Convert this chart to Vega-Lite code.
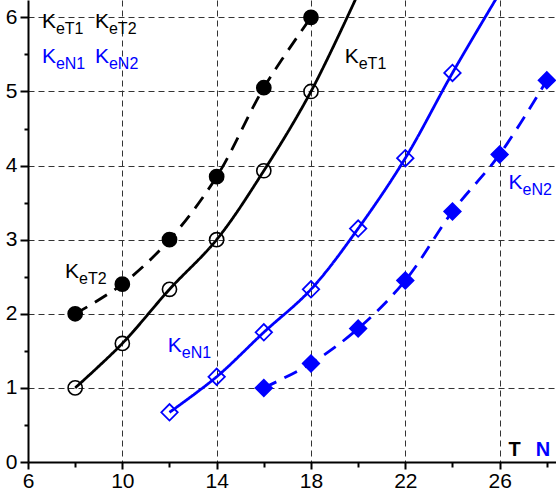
{
  "$schema": "https://vega.github.io/schema/vega-lite/v6.json",
  "width": 528,
  "height": 462,
  "autosize": {"type": "none"},
  "padding": {"left": 28, "top": 0, "right": 0, "bottom": 37},
  "background": "white",
  "config": {
    "view": {"stroke": null},
    "font": "Liberation Sans",
    "axis": {
      "domainColor": "black",
      "domainWidth": 2,
      "tickColor": "black",
      "tickWidth": 2,
      "labelColor": "black",
      "labelFont": "Liberation Sans",
      "labelFontSize": 21,
      "gridColor": "#333333",
      "gridDash": [6, 4],
      "gridWidth": 1,
      "title": null
    }
  },
  "datasets": {
    "curves": [
      {"s": "KeT1", "x": 8, "y": 1.0, "m": true},
      {"s": "KeT1", "x": 10, "y": 1.6, "m": true},
      {"s": "KeT1", "x": 12, "y": 2.33, "m": true},
      {"s": "KeT1", "x": 14, "y": 3.0, "m": true},
      {"s": "KeT1", "x": 16, "y": 3.93, "m": true},
      {"s": "KeT1", "x": 18, "y": 5.0, "m": true},
      {"s": "KeT1", "x": 20, "y": 6.32, "m": false},
      {"s": "KeT2", "x": 8, "y": 2.0, "m": true},
      {"s": "KeT2", "x": 10, "y": 2.4, "m": true},
      {"s": "KeT2", "x": 12, "y": 3.0, "m": true},
      {"s": "KeT2", "x": 14, "y": 3.85, "m": true},
      {"s": "KeT2", "x": 16, "y": 5.05, "m": true},
      {"s": "KeT2", "x": 18, "y": 6.0, "m": true},
      {"s": "KeN1", "x": 12, "y": 0.67, "m": true},
      {"s": "KeN1", "x": 14, "y": 1.15, "m": true},
      {"s": "KeN1", "x": 16, "y": 1.75, "m": true},
      {"s": "KeN1", "x": 18, "y": 2.33, "m": true},
      {"s": "KeN1", "x": 20, "y": 3.15, "m": true},
      {"s": "KeN1", "x": 22, "y": 4.1, "m": true},
      {"s": "KeN1", "x": 24, "y": 5.25, "m": true},
      {"s": "KeN1", "x": 26, "y": 6.33, "m": false},
      {"s": "KeN2", "x": 16, "y": 1.0, "m": true},
      {"s": "KeN2", "x": 18, "y": 1.33, "m": true},
      {"s": "KeN2", "x": 20, "y": 1.8, "m": true},
      {"s": "KeN2", "x": 22, "y": 2.45, "m": true},
      {"s": "KeN2", "x": 24, "y": 3.38, "m": true},
      {"s": "KeN2", "x": 26, "y": 4.15, "m": true},
      {"s": "KeN2", "x": 28, "y": 5.15, "m": true}
    ],
    "labels": [
      {"s": "KeT1", "k": "K", "sub": "eT1", "x": 6.59, "y": 5.86},
      {"s": "KeT2", "k": "K", "sub": "eT2", "x": 8.84, "y": 5.86},
      {"s": "KeN1", "k": "K", "sub": "eN1", "x": 6.59, "y": 5.39},
      {"s": "KeN2", "k": "K", "sub": "eN2", "x": 8.84, "y": 5.39},
      {"s": "KeT1", "k": "K", "sub": "eT1", "x": 19.43, "y": 5.39},
      {"s": "KeT2", "k": "K", "sub": "eT2", "x": 7.57, "y": 2.48},
      {"s": "KeN1", "k": "K", "sub": "eN1", "x": 11.93, "y": 1.48},
      {"s": "KeN2", "k": "K", "sub": "eN2", "x": 26.38, "y": 3.69}
    ],
    "keys": [
      {"s": "KeT1", "t": "T", "x": 26.38, "y": 0.08},
      {"s": "KeN1", "t": "N", "x": 27.53, "y": 0.08}
    ]
  },
  "encoding": {
    "x": {
      "field": "x",
      "type": "quantitative",
      "scale": {"domain": [6, 28.39], "nice": false, "zero": false},
      "axis": {
        "values": [6, 8, 10, 12, 14, 16, 18, 20, 22, 24, 26, 28],
        "labelExpr": "datum.value % 4 == 2 ? format(datum.value, 'd') : ''",
        "tickSize": {"condition": {"test": "datum.value % 4 == 2", "value": 7}, "value": 5},
        "labelPadding": 1,
        "labelFlush": false,
        "labelOverlap": false,
        "grid": true,
        "gridOpacity": {"condition": {"test": "datum.value % 4 == 2 && datum.value > 6", "value": 1}, "value": 0}
      }
    },
    "y": {
      "field": "y",
      "type": "quantitative",
      "scale": {"domain": [0, 6.234], "nice": false, "zero": true},
      "axis": {
        "values": [0, 0.5, 1, 1.5, 2, 2.5, 3, 3.5, 4, 4.5, 5, 5.5, 6],
        "labelExpr": "datum.value % 1 == 0 ? format(datum.value, 'd') : ''",
        "tickSize": {"condition": {"test": "datum.value % 1 == 0", "value": 8}, "value": 4},
        "labelPadding": 3,
        "labelOverlap": false,
        "labelFlush": false,
        "grid": true,
        "gridOpacity": {"condition": {"test": "datum.value % 1 == 0 && datum.value > 0", "value": 1}, "value": 0}
      }
    },
    "color": {
      "field": "s",
      "type": "nominal",
      "scale": {"domain": ["KeT1", "KeT2", "KeN1", "KeN2"], "range": ["black", "black", "#0000ff", "#0000ff"]},
      "legend": null
    }
  },
  "layer": [
    {
      "data": {"name": "curves"},
      "mark": {"type": "line", "interpolate": "catmull-rom", "strokeWidth": 2.8, "clip": true},
      "encoding": {
        "strokeDash": {
          "field": "s",
          "type": "nominal",
          "scale": {"domain": ["KeT1", "KeT2", "KeN1", "KeN2"], "range": [[1, 0], [14, 9], [1, 0], [14, 9]]},
          "legend": null
        }
      }
    },
    {
      "data": {"name": "curves"},
      "transform": [{"filter": "datum.m && (datum.s == 'KeT1' || datum.s == 'KeT2')"}],
      "mark": {"type": "point", "shape": "circle", "size": 200, "strokeWidth": 1.6, "opacity": 1, "clip": true},
      "encoding": {
        "fill": {
          "field": "s",
          "type": "nominal",
          "scale": {"domain": ["KeT1", "KeT2", "KeN1", "KeN2"], "range": ["transparent", "black", "transparent", "#0000ff"]},
          "legend": null
        }
      }
    },
    {
      "data": {"name": "curves"},
      "transform": [{"filter": "datum.m && (datum.s == 'KeN1' || datum.s == 'KeN2')"}],
      "mark": {"type": "point", "shape": "diamond", "size": 270, "strokeWidth": 1.8, "opacity": 1, "clip": true},
      "encoding": {
        "fill": {
          "field": "s",
          "type": "nominal",
          "scale": {"domain": ["KeT1", "KeT2", "KeN1", "KeN2"], "range": ["transparent", "black", "transparent", "#0000ff"]},
          "legend": null
        }
      }
    },
    {
      "data": {"name": "labels"},
      "mark": {"type": "text", "align": "left", "baseline": "alphabetic", "fontSize": 21},
      "encoding": {"text": {"field": "k"}}
    },
    {
      "data": {"name": "labels"},
      "mark": {"type": "text", "align": "left", "baseline": "alphabetic", "fontSize": 16, "dx": 14, "dy": 6},
      "encoding": {"text": {"field": "sub"}}
    },
    {
      "data": {"name": "keys"},
      "mark": {"type": "text", "align": "left", "baseline": "alphabetic", "fontSize": 20, "fontWeight": "bold"},
      "encoding": {"text": {"field": "t"}}
    }
  ]
}
